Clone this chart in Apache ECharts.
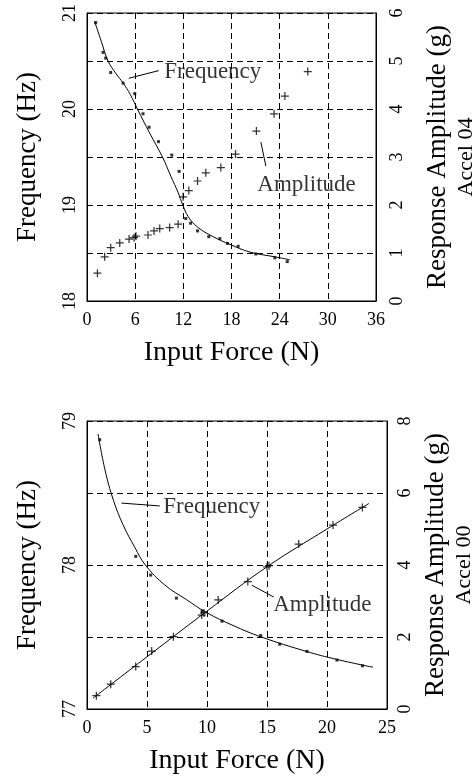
<!DOCTYPE html>
<html><head><meta charset="utf-8">
<script src="https://cdn.jsdelivr.net/npm/echarts@6/dist/echarts.min.js"></script>
<style>html,body{margin:0;padding:0;background:#fff}#c{width:475px;height:778px}</style>
</head><body><div id="c"></div>
<script>
// ---------- Top panel (Accel 04) ----------
const topFreqDots = [[1.08,20.90],[2.0,20.59],[2.33,20.53],[2.95,20.38],[4.5,20.27],[5.95,20.16],[6.98,19.95],[7.73,19.81],[8.9,19.66],[10.56,19.52],[11.47,19.35],[12.3,18.86],[12.9,18.81],[13.77,18.73],[15.17,18.67],[16.55,18.65],[17.5,18.60],[18.83,18.57],[21.03,18.49],[23.4,18.45],[24.94,18.41]];
const topFreqFit = [[0.96,20.91],[1.8,20.70],[2.62,20.50],[3.6,20.37],[4.5,20.27],[5.4,20.15],[6.28,20.0],[7.8,19.75],[9.4,19.5],[10.44,19.30],[11.35,19.13],[11.93,19.0],[12.6,18.88],[13.77,18.77],[15.7,18.67],[17.8,18.59],[20.29,18.51],[23.4,18.46],[25.27,18.43]];
const topAmpPts = [[1.3,0.58],[2.2,0.92],[2.95,1.11],[4.08,1.21],[5.24,1.29],[5.86,1.32],[6.1,1.35],[7.6,1.375],[8.35,1.46],[9.06,1.51],[10.3,1.53],[11.35,1.60],[11.97,2.17],[12.68,2.30],[13.77,2.50],[14.8,2.67],[16.67,2.78],[18.5,3.06],[21.1,3.54],[23.3,3.90],[24.65,4.27],[27.5,4.78]];
const topXTicks = [0, 36, 6];        // min, max, step
const topFreqRange = [18, 21];
const topAmpRange = [0, 6, 1];

// ---------- Bottom panel (Accel 00) ----------
const botFreqDots = [[1.06,78.87],[4.06,78.06],[5.31,77.93],[7.45,77.77],[9.6,77.68],[11.25,77.61],[14.47,77.51],[16.06,77.45],[18.33,77.40],[20.83,77.34],[22.95,77.30]];
const botFreqFit = [[0.92,78.91],[1.5,78.66],[2.2,78.45],[3.0,78.28],[4.0,78.12],[4.86,78.0],[6.5,77.86],[8.28,77.76],[9.95,77.67],[12.17,77.58],[14.53,77.50],[18.28,77.40],[20.78,77.345],[23.83,77.29]];
const botAmpPts = [[0.78,0.37],[1.98,0.69],[4.06,1.18],[5.39,1.61],[7.2,2.01],[9.56,2.61],[9.75,2.67],[10.93,3.03],[13.4,3.54],[15.0,3.95],[15.17,3.98],[17.64,4.58],[20.5,5.11],[22.95,5.60]];
const botAmpFit = [[0.5,0.30],[5,1.45],[10,2.72],[15,3.95],[20,5.0],[23.5,5.71]];
const botXTicks = [0, 25, 5];
const botFreqRange = [77, 79];
const botAmpRange = [0, 8, 2];

// ---------- Annotations (data coordinates) ----------
const topFreqNote = {text:'Frequency', at:[9.56,20.39], from:[8.94,20.40], to:[5.2,20.32]};
const topAmpNote  = {text:'Amplitude', at:[21.16,2.42], from:[22.28,2.81], to:[21.66,3.31]};
const botFreqNote = {text:'Frequency', at:[6.31,78.40], from:[6.06,78.41], to:[2.87,78.43]};
const botAmpNote  = {text:'Amplitude', at:[15.47,2.89], from:[15.56,3.11], to:[13.73,3.44]};

const FONT = 'Liberation Serif';
const BLACK = '#000';
const PLUS = 'path://M3.8,0H5.2V3.8H9V5.2H5.2V9H3.8V5.2H0V3.8H3.8Z';
const OPEN_ARROW = 'path://M5,0L10,10L8.9,10.6L5,2.4L1.1,10.6L0,10Z';

function xAxis(grid, t) {
  return {
    gridIndex: grid, type: 'value', min: t[0], max: t[1], interval: t[2],
    name: 'Input Force (N)', nameLocation: 'middle', nameGap: 38,
    nameTextStyle: {fontFamily: FONT, fontSize: 28, color: BLACK},
    axisLine: {show: true, onZero: false, lineStyle: {color: BLACK, width: 1}},
    axisTick: {show: false},
    axisLabel: {fontFamily: FONT, fontSize: 18, color: BLACK, margin: 10},
    splitLine: {show: true, lineStyle: {color: BLACK, width: 1, type: [6, 4]}}
  };
}
function yLeft(grid, r) {
  return {
    gridIndex: grid, type: 'value', position: 'left', min: r[0], max: r[1], interval: 0.5,
    name: 'Frequency (Hz)', nameLocation: 'middle', nameGap: 46, nameRotate: 90,
    nameTextStyle: {fontFamily: FONT, fontSize: 27, color: BLACK},
    axisLine: {show: true, onZero: false, lineStyle: {color: BLACK, width: 1}},
    axisTick: {show: false},
    axisLabel: {rotate: 90, fontFamily: FONT, fontSize: 18, color: BLACK, margin: 8,
      formatter: v => Math.abs(v - Math.round(v)) < 1e-9 ? String(Math.round(v)) : ''},
    splitLine: {show: true, lineStyle: {color: BLACK, width: 1, type: [6, 4]}}
  };
}
function yRight(grid, r, accel, gap, lm) {
  return {
    gridIndex: grid, type: 'value', position: 'right', min: r[0], max: r[1], interval: r[2],
    name: '{a|Response Amplitude (g)}\n{b|' + accel + '}', nameLocation: 'middle', nameGap: gap, nameRotate: 90,
    nameTextStyle: {color: BLACK, rich: {
      a: {fontFamily: FONT, fontSize: 27, lineHeight: 31, color: BLACK},
      b: {fontFamily: FONT, fontSize: 22, lineHeight: 27, color: BLACK}}},
    axisLine: {show: true, onZero: false, lineStyle: {color: BLACK, width: 1}},
    axisTick: {show: false},
    axisLabel: {rotate: 90, fontFamily: FONT, fontSize: 18, color: BLACK, margin: lm},
    splitLine: {show: false}
  };
}
function arrow(note) {
  return {silent: true, symbol: ['none', OPEN_ARROW], symbolSize: [0, 9], animation: false,
    label: {show: false}, emphasis: {disabled: true},
    itemStyle: {color: BLACK},
    lineStyle: {color: BLACK, width: 1, type: 'solid'},
    data: [[{coord: note.from}, {coord: note.to}]]};
}
function noteSeries(note, xi, yi) {
  return {type: 'scatter', xAxisIndex: xi, yAxisIndex: yi, silent: true, symbolSize: 1,
    itemStyle: {color: 'rgba(0,0,0,0)'},
    label: {show: true, position: 'right', distance: 0, formatter: '{b}', fontFamily: FONT, fontSize: 23, color: BLACK},
    data: [{value: note.at, name: note.text}], markLine: arrow(note)};
}
function dots(data, xi, yi) {
  return {type: 'scatter', xAxisIndex: xi, yAxisIndex: yi, data: data, symbol: 'rect', symbolSize: 3,
    itemStyle: {color: BLACK}, silent: true};
}
function pluses(data, xi, yi) {
  return {type: 'scatter', xAxisIndex: xi, yAxisIndex: yi, data: data, symbol: PLUS, symbolSize: 8,
    itemStyle: {color: BLACK}, silent: true};
}
function curve(data, xi, yi) {
  return {type: 'line', xAxisIndex: xi, yAxisIndex: yi, data: data, smooth: 0.4, showSymbol: false, symbol: 'none',
    lineStyle: {color: BLACK, width: 1}, silent: true};
}

const gridCommon = {show: true, borderColor: BLACK, borderWidth: 1, backgroundColor: 'transparent',
  containLabel: false, outerBoundsMode: 'none'};
const chart = echarts.init(document.getElementById('c'));
chart.setOption({
  animation: false,
  backgroundColor: '#fff',
  grid: [
    Object.assign({left: 87, top: 13, width: 289, height: 288}, gridCommon),
    Object.assign({left: 87, top: 421, width: 300, height: 288}, gridCommon)
  ],
  xAxis: [xAxis(0, topXTicks), xAxis(1, botXTicks)],
  yAxis: [yLeft(0, topFreqRange), yRight(0, topAmpRange, 'Accel 04', 46, 12),
          yLeft(1, botFreqRange), yRight(1, botAmpRange, 'Accel 00', 33, 9)],
  series: [
    dots(topFreqDots, 0, 0), curve(topFreqFit, 0, 0), pluses(topAmpPts, 0, 1),
    noteSeries(topFreqNote, 0, 0), noteSeries(topAmpNote, 0, 1),
    dots(botFreqDots, 1, 2), curve(botFreqFit, 1, 2), pluses(botAmpPts, 1, 3), curve(botAmpFit, 1, 3),
    noteSeries(botFreqNote, 1, 2), noteSeries(botAmpNote, 1, 3)
  ]
});
</script>
</body></html>
